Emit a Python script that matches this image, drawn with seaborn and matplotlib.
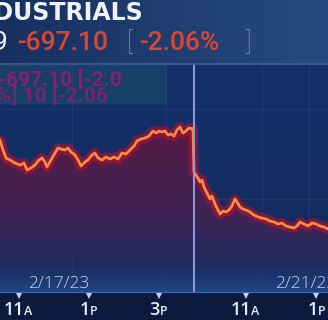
import numpy as np
import matplotlib
matplotlib.use("Agg")
import matplotlib.pyplot as plt
import matplotlib.transforms as mtransforms
from matplotlib.colors import to_rgba
import seaborn as sns
import pandas as pd

# ---- data (trading hours since 9:30 of 2/17, second session appended) ----
hours = [0.957, 1.043, 1.129, 1.243, 1.386, 1.529, 1.643, 1.729, 1.843, 1.957,
         2.071, 2.157, 2.243, 2.3, 2.414, 2.529, 2.614, 2.7, 2.814, 2.9,
         2.986, 3.1, 3.186, 3.271, 3.386, 3.471, 3.586, 3.671, 3.757, 3.871,
         3.986, 4.1, 4.214, 4.329, 4.443, 4.557, 4.671, 4.786, 4.871, 4.986,
         5.1, 5.214, 5.329, 5.414, 5.5, 5.586, 5.671, 5.757, 5.843, 5.929,
         6.014, 6.1, 6.186, 6.271, 6.357, 6.443, 6.47,
         6.5, 6.557, 6.614, 6.671, 6.729, 6.786, 6.871, 6.957, 7.014, 7.1,
         7.186, 7.243, 7.329, 7.414, 7.5, 7.586, 7.671, 7.729, 7.814, 7.9,
         7.986, 8.1, 8.214, 8.329, 8.443, 8.557, 8.671, 8.786, 8.9, 9.014,
         9.129, 9.243, 9.357, 9.443, 9.529, 9.643, 9.757, 9.871, 9.986, 10.1,
         10.214, 10.329]
dow = [33746, 33676, 33620, 33606, 33585, 33571, 33585, 33536, 33550, 33571,
       33606, 33620, 33592, 33557, 33606, 33655, 33690, 33683, 33676, 33690,
       33662, 33641, 33606, 33564, 33592, 33606, 33641, 33655, 33620, 33606,
       33627, 33613, 33627, 33613, 33655, 33648, 33676, 33704, 33739, 33753,
       33760, 33774, 33809, 33795, 33809, 33802, 33809, 33781, 33788, 33774,
       33816, 33837, 33795, 33809, 33830, 33823, 33827,
       33522, 33501, 33480, 33452, 33466, 33417, 33375, 33333, 33354, 33298,
       33256, 33228, 33249, 33242, 33256, 33284, 33333, 33312, 33277, 33263,
       33256, 33242, 33221, 33207, 33200, 33193, 33179, 33172, 33158, 33165,
       33144, 33137, 33130, 33144, 33172, 33158, 33144, 33165, 33158, 33144,
       33137, 33123]
tick_pos = [1.5, 3.5, 5.5, 8.0, 10.0]
tick_main = ["11", "1", "3", "11", "1"]
tick_suffix = ["A", "P", "P", "A", "P"]
date_labels = ["2/17/23", "2/21/23"]
date_pos = [1.76, 8.81]
session_break = 6.5
title_text = "INDUSTRIALS"
last_digit = "9"
change_text = "-697.10"
pct_text = "-2.06%"
ghost_texts = ["-697.10 [-2.0", "%] 10 [-2.06"]

df = pd.DataFrame({"hours": hours, "dow": dow})

W, H = 328, 320
fig = plt.figure(figsize=(W / 100, H / 100), dpi=100)
fig.patch.set_facecolor("#1b396c")

def fy(py):
    return 1 - py / H

def fx(px):
    return px / W

# header background
hax = fig.add_axes([0, fy(64), 1, 64 / H])
hax.set_axis_off()
grad = np.linspace(0, 1, 256)
c0 = np.array(to_rgba("#17305f"))
c1 = np.array(to_rgba("#284a80"))
himg = c0[None, :] * (1 - grad[:, None]) + c1[None, :] * grad[:, None]
hax.imshow(himg[None, :, :], extent=[0, 1, 0, 1], aspect="auto")
hax.set_xlim(0, 1); hax.set_ylim(0, 1)

# bottom bar
bax = fig.add_axes([0, 0, 1, 27 / H])
bax.set_axis_off()
bax.add_patch(plt.Rectangle((0, 0), 1, 1, color="#0c1a3d", transform=bax.transAxes))

# main plot
ax = fig.add_axes([0, 27 / H, 1, 229 / H])
xmin, xmax = 0.957, 10.329
ymin, ymax = 32675, 34278
ax.set_xlim(xmin, xmax)
ax.set_ylim(ymin, ymax)
ax.set_axis_off()

# background gradient of plot area
n = 256
bg = np.zeros((n, 1, 4))
top = np.array(to_rgba("#13306a"))
mid = np.array(to_rgba("#142c5e"))
glow = np.array(to_rgba("#1f4d8e"))
for i in range(n):
    t = i / (n - 1)
    if t < 0.85:
        c = top * (1 - t / 0.85) + mid * (t / 0.85)
    else:
        u = (t - 0.85) / 0.15
        c = mid * (1 - u) + glow * u
    bg[i, 0] = c
ax.imshow(bg, extent=[xmin, xmax, ymin, ymax], aspect="auto", zorder=0)

# faint grid
for gx in [3.0, 5.71, 8.45, 9.8]:
    ax.axvline(gx, color="#3a5a9a", lw=0.6, alpha=0.35, zorder=1)
for gy in [33960, 33330, 33130]:
    ax.axhline(gy, color="#3a5a9a", lw=0.6, alpha=0.3, zorder=1)

# area fill with gradient
poly = ax.fill_between(hours, dow, ymin, color="none", zorder=2)
fg = np.zeros((n, 1, 4))
ctop = np.array(to_rgba("#561a44"))
cmid = np.array(to_rgba("#3c2558"))
cbot = np.array(to_rgba("#1a2a5c"))
for i in range(n):
    t = i / (n - 1)
    if t < 0.6:
        c = ctop * (1 - t / 0.6) + cmid * (t / 0.6)
        a = 1.0
    else:
        u = (t - 0.6) / 0.4
        c = cmid * (1 - u) + cbot * u
        a = 1.0 - 0.85 * u
    c = c.copy(); c[3] = a
    fg[i, 0] = c
fill_top = max(dow)
im = ax.imshow(fg, extent=[xmin, xmax, ymin, fill_top], aspect="auto", zorder=2)
im.set_clip_path(poly.get_paths()[0], transform=ax.transData)

# glow + line
ax.plot(hours, dow, color="#b8102a", lw=7, alpha=0.6, zorder=3, solid_capstyle="round")
sns.lineplot(data=df, x="hours", y="dow", ax=ax, color="#f58a45", lw=2.0, zorder=4,
             estimator=None, sort=False)
ax.set_xlabel(""); ax.set_ylabel("")
ax.set_axis_off()

# session divider
ax.axvline(session_break, color="#8c96d8", lw=1.5, zorder=5)

# bottom glow line
ax.axhline(ymin, color="#3d6fb0", lw=1.5, zorder=5)

# date labels
trans_dx = mtransforms.blended_transform_factory(ax.transData, ax.transAxes)
for lab, pos in zip(date_labels, date_pos):
    ax.text(pos, 0.024, lab, transform=trans_dx, color="#c6d2ea", fontsize=12.5,
            family="Open Sans", fontweight="light", ha="left", va="baseline", zorder=6,
            clip_on=False)

# ticks + labels
for pos, m, s in zip(tick_pos, tick_main, tick_suffix):
    ax.plot([pos], [-0.012], marker="v", color="#c8d4ee", markersize=5,
            transform=trans_dx, clip_on=False, zorder=6, markeredgewidth=0)
    off = mtransforms.ScaledTranslation(5 / 100 if m == "11" else 1 / 100, 0, fig.dpi_scale_trans)
    ax.text(pos, -0.094, m, transform=trans_dx + off, color="#e6ecf8", fontsize=13,
            family="Open Sans", fontweight="semibold", ha="right", va="baseline", clip_on=False)
    ax.text(pos, -0.094, s, transform=trans_dx + off, color="#e6ecf8", fontsize=9,
            family="Open Sans", fontweight="semibold", ha="left", va="baseline", clip_on=False)

# header divider
fig.add_artist(plt.Line2D([0, 1], [fy(64), fy(64)], color="#3e5f94", lw=1.2,
                          transform=fig.transFigure))

# ghosted overlay (glitch) below header
fig.add_artist(plt.Rectangle((0, fy(103)), fx(166), 38 / H, color="#1b4e66", alpha=0.55,
                             transform=fig.transFigure, zorder=3))
fig.text(fx(-2), fy(80), ghost_texts[0], color="#9c1a74", fontsize=15, family="Roboto",
         fontweight="bold", ha="left", va="center", alpha=0.85, zorder=4)
fig.text(fx(-4), fy(96), ghost_texts[1], color="#9c1a74", fontsize=15, family="Roboto",
         fontweight="bold", ha="left", va="center", alpha=0.7, zorder=4)

# header texts
fig.text(fx(144), fy(13.5), title_text, color="#eef3fb", fontsize=17, family="DejaVu Sans",
         fontweight="bold", ha="right", va="center")
fig.text(fx(7.5), fy(42.5), last_digit, color="#eef3fb", fontsize=19, family="Roboto",
         ha="right", va="center")
fig.text(fx(17), fy(42.5), change_text, color="#e2452e", fontsize=19, family="Roboto",
         fontweight="medium", ha="left", va="center")
fig.text(fx(127), fy(42.5), "[", color="#b49a6a", fontsize=19, family="Roboto",
         fontweight="light", ha="left", va="center")
fig.text(fx(139), fy(42.5), pct_text, color="#e2452e", fontsize=19, family="Roboto",
         fontweight="medium", ha="left", va="center")
fig.text(fx(251), fy(42.5), "]", color="#b49a6a", fontsize=19, family="Roboto",
         fontweight="light", ha="right", va="center")

fig.savefig("out.png", dpi=100, facecolor=fig.get_facecolor())
